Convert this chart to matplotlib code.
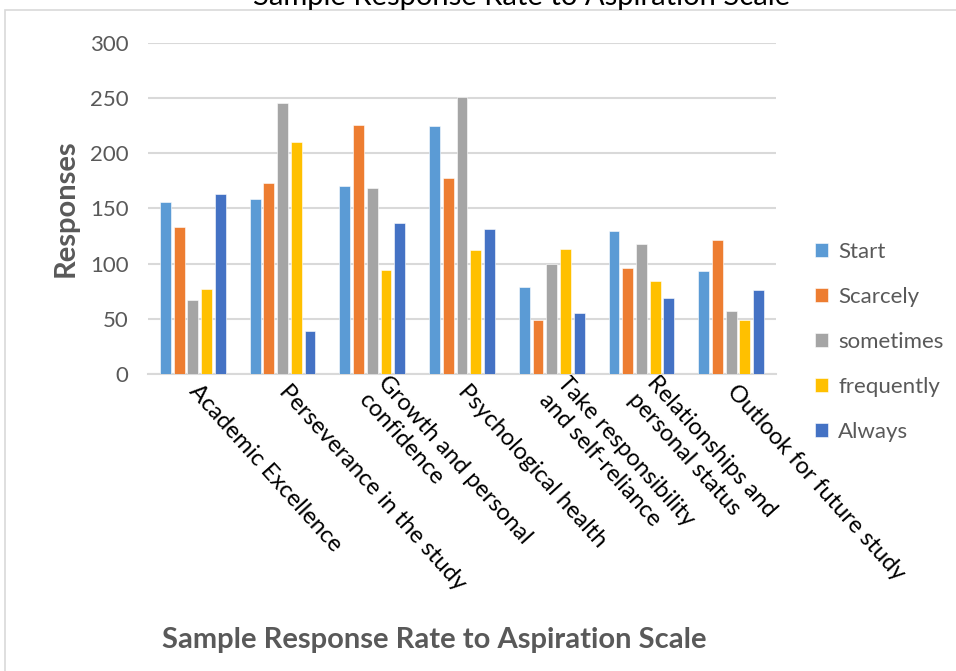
import matplotlib.pyplot as plt
import matplotlib.patches as mpatches
import numpy as np

plt.rcParams['font.family'] = ['Lato', 'DejaVu Sans']

categories = [
    "Academic Excellence",
    "Perseverance in the study",
    "Growth and personal\nconfidence",
    "Psychological health",
    "Take responsibility\nand self-reliance",
    "Relationships and\npersonal status",
    "Outlook for future study",
]
series_names = ["Start", "Scarcely", "sometimes", "frequently", "Always"]
start = [156, 159, 170, 225, 79, 130, 93]
scarcely = [133, 173, 226, 178, 49, 96, 121]
sometimes = [67, 246, 169, 251, 100, 118, 57]
frequently = [77, 210, 94, 112, 113, 84, 49]
always = [163, 39, 137, 131, 55, 69, 76]
colors = ["#5B9BD5", "#ED7D31", "#A5A5A5", "#FFC000", "#4472C4"]

W, H = 956, 671
fig = plt.figure(figsize=(W / 100, H / 100), dpi=100)

# light frame around the chart area
frame = mpatches.Rectangle((5 / W, -0.1), 1.2, 1.1 - 10 / H, transform=fig.transFigure,
                           fill=False, edgecolor="#D9D9D9", linewidth=1.2)
fig.patches.append(frame)

ax = fig.add_axes([148 / W, 1 - 374 / H, (776 - 148) / W, (374 - 43) / H])

x = np.arange(len(categories)) + 0.5
bar_w = 0.12
step = 0.153
for i, (name, vals) in enumerate(zip(series_names,
                                     [start, scarcely, sometimes, frequently, always])):
    ax.bar(x + (i - 2) * step, vals, width=bar_w, color=colors[i], label=name,
           edgecolor="white", linewidth=0.4, zorder=3)

ax.set_xlim(0, len(categories))
ax.set_ylim(0, 300)
ax.set_yticks(range(0, 301, 50))
ax.grid(axis="y", color="#D9D9D9", linewidth=1.5, zorder=0)
for side in ["top", "right", "left"]:
    ax.spines[side].set_visible(False)
ax.spines["bottom"].set_color("#D9D9D9")
ax.spines["bottom"].set_linewidth(1.5)
ax.tick_params(axis="y", length=0, pad=14, labelsize=16, labelcolor="#595959")
ax.tick_params(axis="x", length=0, pad=10)
ax.set_xticks(x)
ax.set_xticklabels(categories, rotation=-48, ha="left", va="center",
                   rotation_mode="anchor", fontsize=17, color="black",
                   multialignment="left", linespacing=1.25)

ax.set_ylabel("Responses", fontsize=21, fontweight="bold", color="#595959", labelpad=8)

leg = ax.legend(loc="center left", frameon=False, fontsize=16,
                handlelength=0.6, handleheight=0.6, handletextpad=0.45,
                labelspacing=1.13, labelcolor="#595959", borderaxespad=0)
leg.set_bbox_to_anchor((806 / W, 1 - 342 / H), transform=fig.transFigure)

fig.text(434 / W, 1 - 640 / H, "Sample Response Rate to Aspiration Scale",
         ha="center", va="center", fontsize=21, fontweight="bold", color="#595959")
fig.text(522 / W, 1 - 5 / H, "Sample Response Rate to Aspiration Scale",
         ha="center", va="baseline", fontsize=21, color="black")

fig.savefig("out.png", dpi=100)
